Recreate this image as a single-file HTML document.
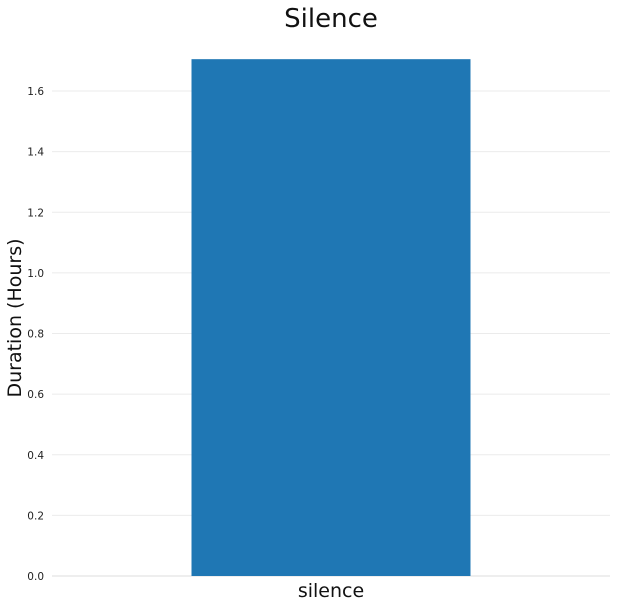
<!DOCTYPE html>
<html>
<head>
<meta charset="utf-8">
<style>
html,body{margin:0;padding:0;background:#fff;}
svg{display:block;font-family:"DejaVu Sans","Liberation Sans",sans-serif;}
</style>
</head>
<body>
<svg id="chart" width="617" height="608"></svg>
<script>
const categories = ["silence"];
const durations = [1.705];
const yTicks = [0.0, 0.2, 0.4, 0.6, 0.8, 1.0, 1.2, 1.4, 1.6];

const svg = document.getElementById('chart');
const NS = 'http://www.w3.org/2000/svg';
const plotLeft = 52, plotRight = 610, y0px = 576, pxPerUnit = 303.125;
function yScale(v){ return y0px - v * pxPerUnit; }
const bandW = (plotRight - plotLeft) / categories.length;
function xBand(i){ return plotLeft + bandW * i; }
function mk(tag, attrs){ const e = document.createElementNS(NS, tag); for (const k in attrs) e.setAttribute(k, attrs[k]); svg.appendChild(e); return e; }

yTicks.forEach(t => {
  const y = yScale(t);
  const g = mk('line', {x1: plotLeft, x2: plotRight, y1: y, y2: y, stroke: t === 0 ? '#dddddd' : '#ebebeb', 'stroke-width': 1});
  
  
  const lb = mk('text', {x: 44, y: y + 4, 'text-anchor': 'end', 'font-size': 10.5, fill: '#222'});
  lb.textContent = t.toFixed(1);
  
  
});

categories.forEach((c, i) => {
  const bx = xBand(i) + bandW * 0.25;
  const bw = bandW * 0.5;
  const r = mk('rect', {x: bx, y: yScale(durations[i]), width: bw, height: y0px - yScale(durations[i]), fill: '#1f77b4'});
  
  
  const t = mk('text', {x: xBand(i) + bandW / 2, y: 597, 'text-anchor': 'middle', 'font-size': 19, fill: '#111'});
  t.textContent = c;
  
  
});

const title = mk('text', {x: 331, y: 27, 'text-anchor': 'middle', 'font-size': 26, fill: '#111'});
title.textContent = 'Silence';



const yt = mk('text', {x: 0, y: 0, 'text-anchor': 'middle', 'font-size': 19, fill: '#111', transform: 'translate(21,318) rotate(-90)'});
yt.textContent = 'Duration (Hours)';


</script>
</body>
</html>
